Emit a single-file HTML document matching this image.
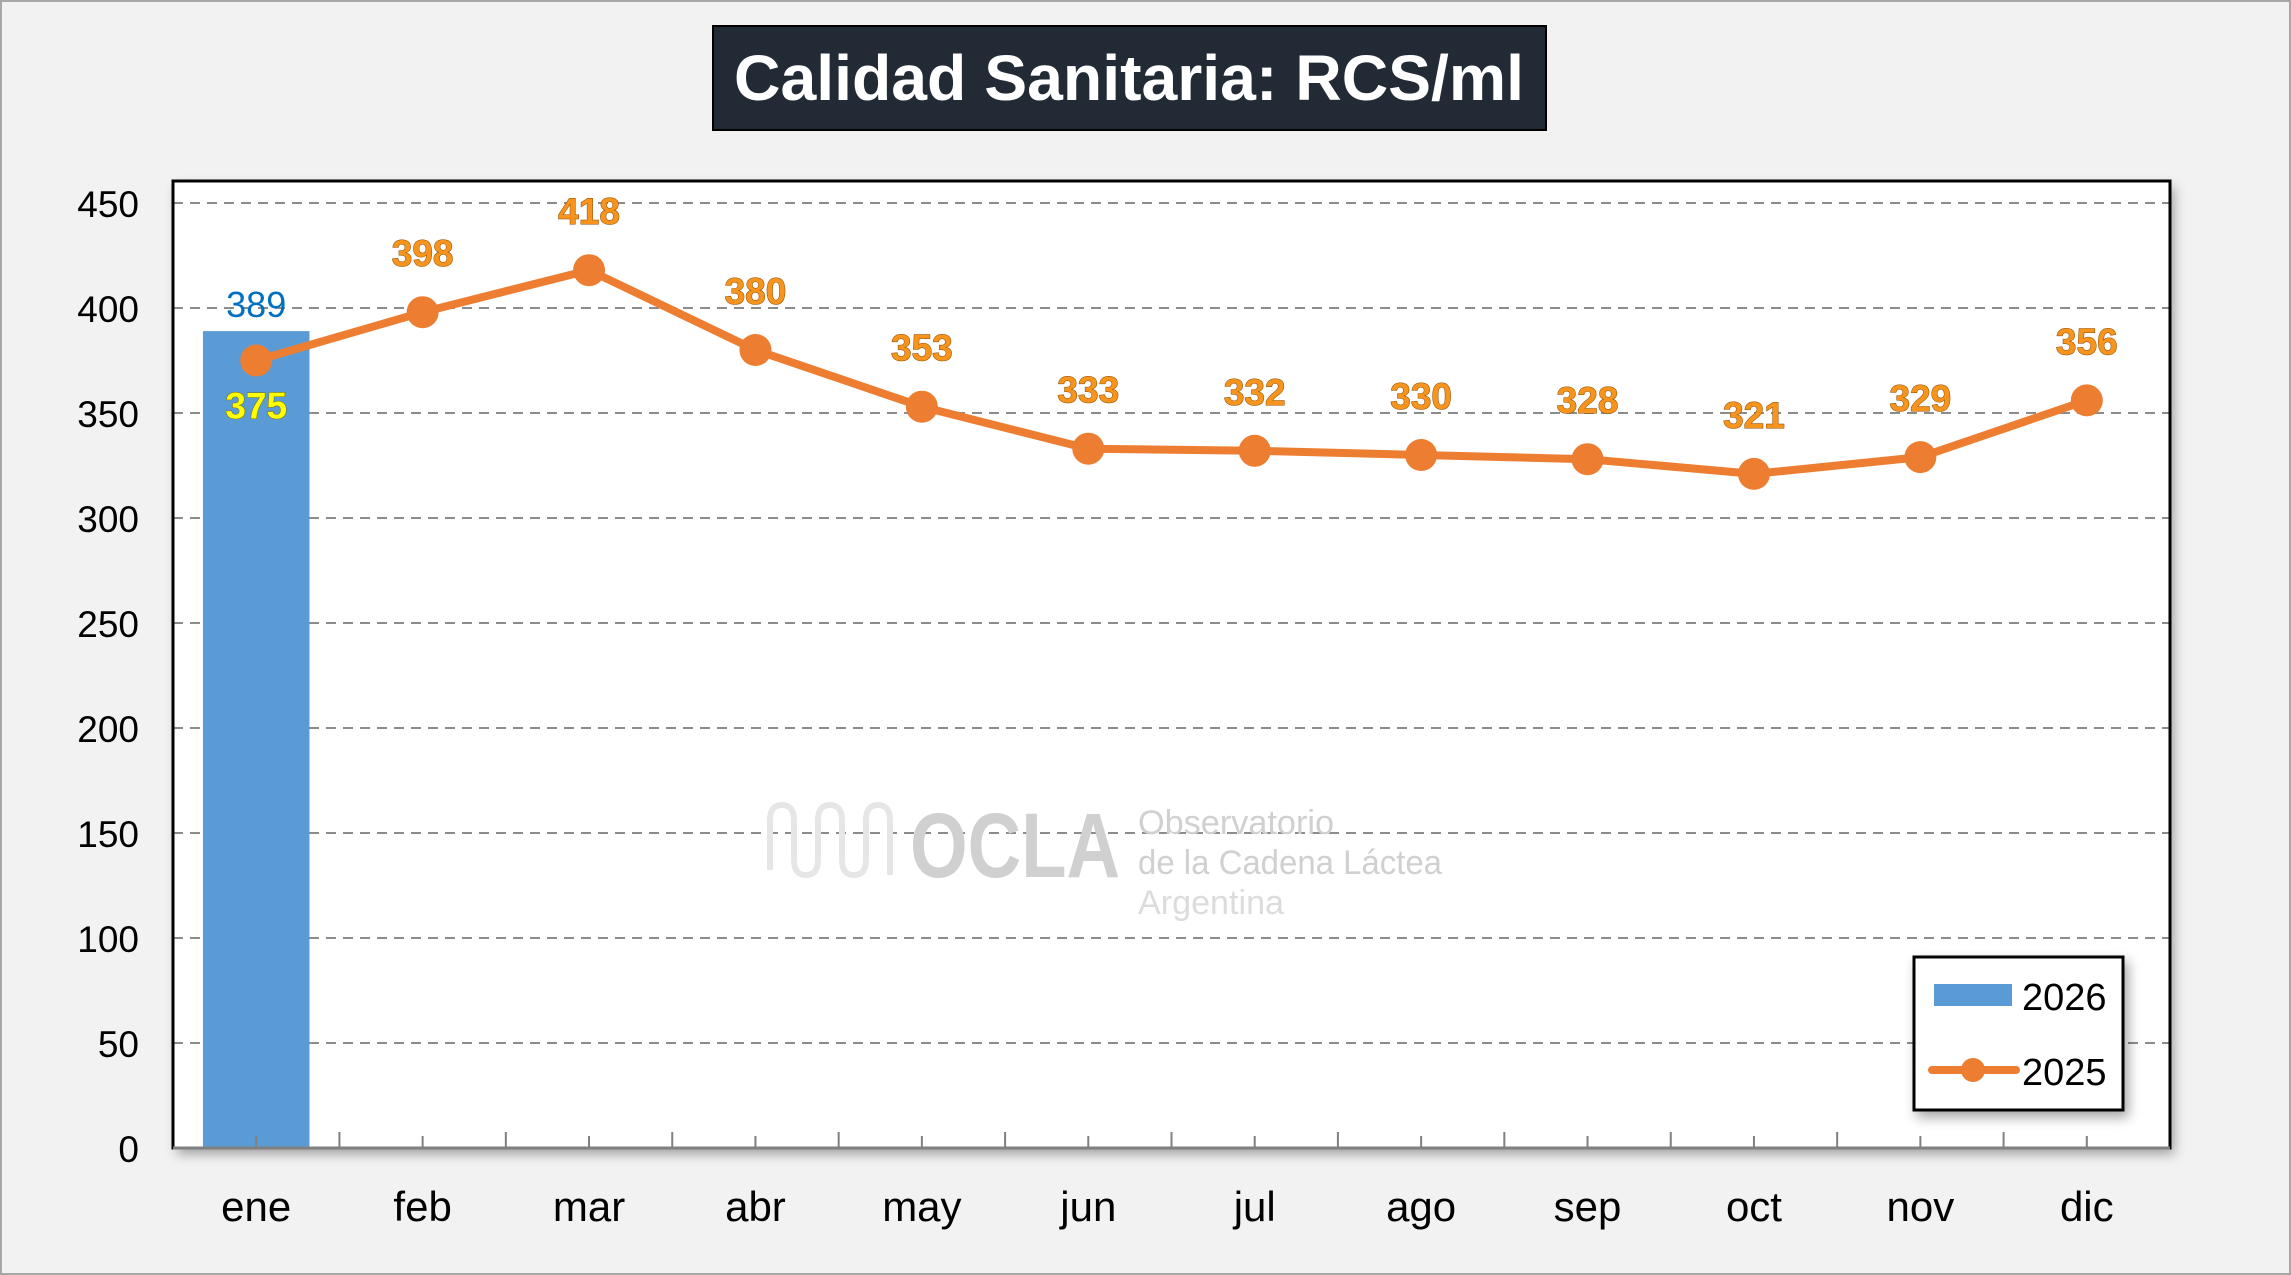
<!DOCTYPE html>
<html><head><meta charset="utf-8"><style>
html,body{margin:0;padding:0;background:#f2f2f2;}
svg{display:block;font-family:"Liberation Sans",sans-serif;}
</style></head><body>
<svg id="chart" width="2291" height="1275" viewBox="0 0 2291 1275">
<defs>
<filter id="sh" x="-10%" y="-10%" width="130%" height="130%"><feDropShadow dx="4" dy="6" stdDeviation="6" flood-color="#000" flood-opacity="0.35"/></filter>
</defs>
<rect x="1" y="1" width="2289" height="1273" fill="#f2f2f2" stroke="#a6a6a6" stroke-width="2"/>
<g>
<rect x="713" y="26" width="833" height="104" fill="#222a35" stroke="#000" stroke-width="2"/>
<text x="1129" y="100" text-anchor="middle" fill="#fff" font-weight="bold" font-size="64" textLength="790" lengthAdjust="spacingAndGlyphs">Calidad Sanitaria: RCS/ml</text>
</g>
<rect x="173" y="181" width="1997" height="967" fill="#fff" filter="url(#sh)"/>
<g id="grid"></g>
<g id="wm" fill="#d0d0d0">
<path d="M770 870 V820 q0-15 12-15 q12 0 12 15 v40 q0 15 12 15 q12 0 12-15 v-40 q0-15 12-15 q12 0 12 15 v40 q0 15 12 15 q12 0 12-15 v-40 q0-15 12-15 q12 0 12 15 v55" fill="none" stroke="#e6e6e6" stroke-width="6"/>
<text x="910" y="877" font-size="92" font-weight="bold" textLength="210" lengthAdjust="spacingAndGlyphs">OCLA</text>
<text x="1138" y="834" font-size="34" textLength="196" lengthAdjust="spacingAndGlyphs">Observatorio</text>
<text x="1138" y="874" font-size="34" textLength="304" lengthAdjust="spacingAndGlyphs">de la Cadena Láctea</text>
<text x="1138" y="914" font-size="34" fill="#dcdcdc" textLength="146" lengthAdjust="spacingAndGlyphs">Argentina</text>
</g>
<g id="bars"></g>
<g id="line"></g>
<g id="axes"></g>
<g id="labels"></g>
<g>
<rect x="1914" y="957" width="209" height="153" fill="#fff" stroke="#000" stroke-width="3" filter="url(#sh)"/>
<rect x="1934" y="984" width="78" height="22" fill="#5b9bd5"/>
<text x="2022" y="1010" font-size="38" fill="#000">2026</text>
<line x1="1932" y1="1070" x2="2016" y2="1070" stroke="#ed7d31" stroke-width="8" stroke-linecap="round"/>
<circle cx="1973" cy="1070" r="12" fill="#ed7d31"/>
<text x="2022" y="1085" font-size="38" fill="#000">2025</text>
</g>
</svg>
<script>
const categories = ["ene","feb","mar","abr","may","jun","jul","ago","sep","oct","nov","dic"];
const values2026 = [389];
const values2025 = [375,398,418,380,353,333,332,330,328,321,329,356];
const yTicks = [0,50,100,150,200,250,300,350,400,450];
const NS = "http://www.w3.org/2000/svg";
const L=173, R=2170, T=181, B=1148, YMAX=450;
const band=(R-L)/categories.length;
function x(i){return L+band*(i+0.5);}
function y(v){return B-(v/YMAX)*(B-203);}
function mk(tag,attrs,parent){const e=document.createElementNS(NS,tag);for(const k in attrs)e.setAttribute(k,attrs[k]);parent.appendChild(e);return e;}
const grid=document.getElementById('grid'), axes=document.getElementById('axes');
yTicks.forEach(t=>{
  if(t>0){const g=mk('line',{x1:L,x2:R,y1:y(t),y2:y(t),stroke:'#8c8c8c','stroke-width':2,'stroke-dasharray':'10 7'},grid);
  
  }
  const tx=mk('text',{x:139,y:y(t)+14,'text-anchor':'end','font-size':37,fill:'#000'},axes);
  tx.textContent=t;
  
  
});
const bars=document.getElementById('bars');
values2026.forEach((v,i)=>{
  const w=band*0.64;
  const r=mk('rect',{x:x(i)-w/2,y:y(v),width:w,height:B-y(v),fill:'#5b9bd5'},bars);
  
  
});
const line=document.getElementById('line');
const pl=mk('polyline',{points:values2025.map((v,i)=>x(i)+','+y(v)).join(' '),fill:'none',stroke:'#ed7d31','stroke-width':8,'stroke-linejoin':'round'},line);


values2025.forEach((v,i)=>{
  const c=mk('circle',{cx:x(i),cy:y(v),r:16,fill:'#ed7d31'},line);
  
  
});
const fr=mk('path',{d:`M${L} ${T} H${R} V${B} H${L} Z`,fill:'none',stroke:'#000','stroke-width':3},axes);


const xa=mk('line',{x1:L,x2:R,y1:B,y2:B,stroke:'#808080','stroke-width':3},axes);


for(let k=1;k<categories.length*2;k++){
  const xx=L+band*k/2;
  const tk=mk('line',{x1:xx,x2:xx,y1:B,y2:B-(k%2?12:16),stroke:'#808080','stroke-width':2},axes);
  
  
}
categories.forEach((c,i)=>{
  const t=mk('text',{x:x(i),y:1221,'text-anchor':'middle','font-size':42,fill:'#000'},axes);
  t.textContent=c;
  
  
});
const labels=document.getElementById('labels');
values2025.forEach((v,i)=>{
  const below=(i===0);
  const t=mk('text',{x:x(i),y:below?y(v)+58:y(v)-46,'text-anchor':'middle','font-size':37,'font-weight':'bold',fill:below?'#ffff00':'#f7941d',stroke:below?'#7a6a00':'#8a4a00','stroke-width':1,'paint-order':'stroke'},labels);
  t.textContent=v;
  
  
});
values2026.forEach((v,i)=>{
  const t=mk('text',{x:x(i),y:y(v)-14,'text-anchor':'middle','font-size':36,fill:'#0070c0'},labels);
  t.textContent=v;
  
  
});
</script>
</body></html>
